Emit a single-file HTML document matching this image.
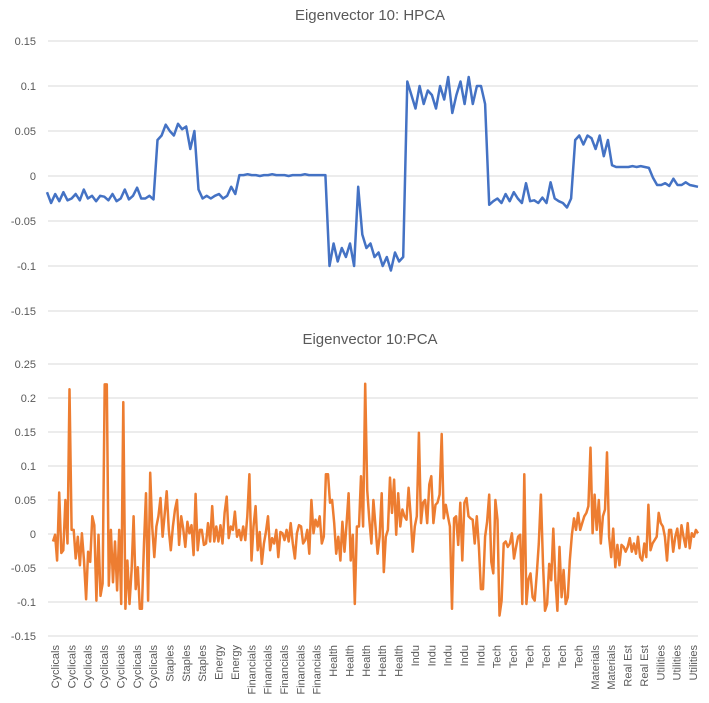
<!DOCTYPE html>
<html><head><meta charset="utf-8"><style>
body{margin:0;background:#fff;}
svg{display:block;font-family:"Liberation Sans",sans-serif;}
</style></head><body>
<svg id="chart" width="709" height="703" viewBox="0 0 709 703" xmlns="http://www.w3.org/2000/svg">
<rect width="709" height="703" fill="#fff"/>
<text x="370" y="20" text-anchor="middle" font-size="15" fill="#595959">Eigenvector 10: HPCA</text>
<text x="370" y="344" text-anchor="middle" font-size="15" fill="#595959">Eigenvector 10:PCA</text>
<g id="top"></g><g id="bot"></g><g id="xl"></g>
</svg>
<script>
const hpcaTicks=[0.15,0.1,0.05,0,-0.05,-0.1,-0.15];
const hpcaTickLabels=["0.15","0.1","0.05","0","-0.05","-0.1","-0.15"];
const pcaTicks=[0.25,0.2,0.15,0.1,0.05,0,-0.05,-0.1,-0.15];
const pcaTickLabels=["0.25","0.2","0.15","0.1","0.05","0","-0.05","-0.1","-0.15"];
const categories=["Cyclicals","Cyclicals","Cyclicals","Cyclicals","Cyclicals","Cyclicals","Cyclicals","Staples","Staples","Staples","Energy","Energy","Financials","Financials","Financials","Financials","Financials","Health","Health","Health","Health","Health","Indu","Indu","Indu","Indu","Indu","Tech","Tech","Tech","Tech","Tech","Tech","Materials","Materials","Real Est","Real Est","Utilities","Utilities","Utilities"];
const hpcaValues=[-0.018,-0.03,-0.02,-0.028,-0.018,-0.027,-0.025,-0.02,-0.027,-0.015,-0.025,-0.022,-0.028,-0.022,-0.023,-0.027,-0.02,-0.028,-0.025,-0.015,-0.026,-0.022,-0.013,-0.025,-0.025,-0.022,-0.026,
0.04,0.045,0.057,0.05,0.045,0.058,0.052,0.055,0.03,0.05,
-0.015,-0.025,-0.022,-0.025,-0.022,-0.02,-0.025,-0.022,-0.012,-0.02,
0.001,0.001,0.002,0.001,0.001,0,0.001,0.001,0.002,0.001,0.001,0.001,0,0.001,0.001,0.001,0.002,0.001,0.001,0.001,0.001,0.001,
-0.1,-0.075,-0.095,-0.08,-0.09,-0.075,-0.1,-0.012,-0.065,-0.08,-0.075,-0.09,-0.085,-0.1,-0.09,-0.105,-0.085,-0.095,-0.09,
0.105,0.09,0.075,0.1,0.08,0.095,0.09,0.075,0.1,0.085,0.11,0.07,0.09,0.105,0.08,0.11,0.08,0.1,0.1,0.08,
-0.032,-0.028,-0.025,-0.03,-0.02,-0.028,-0.018,-0.025,-0.03,-0.008,-0.028,-0.027,-0.03,-0.024,-0.03,-0.007,-0.025,-0.028,-0.03,-0.035,-0.025,
0.04,0.045,0.035,0.045,0.042,0.03,0.045,0.022,0.04,
0.012,0.01,0.01,0.01,0.01,0.011,0.01,0.011,0.01,0.009,
-0.002,-0.01,-0.01,-0.008,-0.011,-0.003,-0.01,-0.01,-0.007,-0.01,-0.011,-0.012];
const pcaValues=[-0.011,-0.001,-0.039,0.061,-0.028,-0.024,0.050,-0.014,0.213,0.006,0.006,-0.036,-0.004,-0.046,0.001,-0.039,-0.096,-0.026,-0.041,0.026,0.013,-0.098,-0.001,-0.091,-0.073,0.220,0.220,-0.076,0.006,-0.071,-0.011,-0.083,0.006,-0.103,0.194,-0.110,-0.039,-0.103,-0.053,0.026,-0.081,-0.049,-0.110,-0.110,-0.014,0.060,-0.098,0.090,0.011,-0.034,0.011,0.026,0.053,-0.004,0.028,0.063,0.006,-0.024,0.011,0.036,0.050,-0.016,0.026,0.008,-0.019,0.018,0.001,0.013,-0.031,0.059,-0.024,0.006,0.006,-0.016,-0.014,0.016,-0.011,0.041,-0.011,0.011,-0.011,0.013,-0.014,0.031,0.055,-0.006,0.011,0.006,0.033,-0.004,0.006,-0.009,0.011,-0.009,0.026,0.088,-0.039,0.011,0.041,-0.024,0.003,-0.044,-0.014,0.003,0.026,-0.024,-0.006,-0.014,0.006,-0.034,0.003,0.001,-0.009,0.006,-0.011,0.016,-0.014,-0.036,0.001,0.013,0.011,-0.014,-0.009,0.006,-0.029,0.050,0.001,0.021,0.011,0.026,-0.014,-0.004,0.088,0.088,0.046,0.050,0.016,-0.029,
-0.004,-0.039,0.018,-0.026,0.016,0.060,-0.039,-0.001,-0.103,0.011,0.011,0.085,0.011,0.221,0.065,0.021,-0.014,0.050,0.011,-0.029,-0.004,0.060,-0.056,-0.004,0.006,0.083,0.031,0.080,-0.001,0.060,0.011,0.036,0.026,0.021,0.068,0.028,-0.026,0.011,0.026,0.149,0.016,0.046,0.050,0.016,0.073,0.085,0.016,0.043,0.046,0.058,0.147,0.023,0.043,0.026,0.011,-0.110,0.023,0.026,-0.016,0.046,-0.039,0.046,0.053,0.026,0.023,0.021,-0.014,0.026,-0.019,-0.081,-0.081,-0.004,0.018,0.058,-0.041,-0.058,0.050,0.021,-0.120,-0.098,-0.014,-0.011,-0.019,-0.014,0.001,-0.036,-0.019,-0.004,-0.001,-0.103,0.088,-0.103,-0.066,-0.058,-0.093,-0.098,-0.058,-0.014,0.058,-0.044,-0.113,-0.103,-0.044,-0.068,0.008,-0.068,-0.113,-0.019,-0.093,-0.053,-0.103,-0.093,-0.039,-0.001,0.023,0.006,0.031,0.006,0.016,0.026,0.031,0.041,0.127,0.001,0.058,0.006,0.050,-0.014,0.026,0.036,0.120,-0.004,-0.034,0.008,-0.049,-0.016,-0.046,-0.016,-0.019,-0.026,-0.019,-0.006,-0.026,-0.014,-0.029,-0.004,-0.034,-0.039,-0.014,-0.034,0.043,-0.024,-0.014,-0.009,-0.004,0.031,0.016,0.011,-0.004,-0.039,0.006,0.006,-0.026,-0.004,0.008,-0.021,0.013,-0.004,-0.019,0.016,-0.021,0.001,-0.004,0.006,0.001];

const NS="http://www.w3.org/2000/svg";
function mk(tag,attrs,parent){const e=document.createElementNS(NS,tag);for(const k in attrs)e.setAttribute(k,attrs[k]);parent.appendChild(e);return e;}
const X0=48,X1=698;
function yTop(v){return 176-v*900;}
function yBot(v){return 534-v*680;}
const gTop=document.getElementById('top'),gBot=document.getElementById('bot'),gX=document.getElementById('xl');
hpcaTicks.forEach((t,i)=>{
  const l=mk('line',{x1:X0,x2:X1,y1:yTop(t),y2:yTop(t),stroke:'#d9d9d9','stroke-width':1},gTop);
  
  
  const tx=mk('text',{x:36,y:yTop(t)+4,'text-anchor':'end','font-size':11,fill:'#595959'},gTop);
  tx.textContent=hpcaTickLabels[i];
  
  
});
pcaTicks.forEach((t,i)=>{
  const l=mk('line',{x1:X0,x2:X1,y1:yBot(t),y2:yBot(t),stroke:'#d9d9d9','stroke-width':1},gBot);
  
  
  const tx=mk('text',{x:36,y:yBot(t)+4,'text-anchor':'end','font-size':11,fill:'#595959'},gBot);
  tx.textContent=pcaTickLabels[i];
  
  
});
const nT=hpcaValues.length;
const xTop=i=>47+i*(651/(nT-1));
const pTop=mk('polyline',{points:hpcaValues.map((v,i)=>xTop(i).toFixed(1)+','+yTop(v).toFixed(1)).join(' '),fill:'none',stroke:'#4472C4','stroke-width':2.5,'stroke-linejoin':'round'},gTop);


const nB=pcaValues.length;
const xBot=i=>53+i*(645/(nB-1));
const pBot=mk('polyline',{points:pcaValues.map((v,i)=>xBot(i).toFixed(1)+','+yBot(v).toFixed(1)).join(' '),fill:'none',stroke:'#ED7D31','stroke-width':2.5,'stroke-linejoin':'round'},gBot);


const step=(693-55)/(categories.length-1);
categories.forEach((c,k)=>{
  const x=55+k*step+4;
  const tx=mk('text',{x:x,y:645,'text-anchor':'end','font-size':11,fill:'#595959',transform:'rotate(-90 '+x+' 645)'},gX);
  tx.textContent=c;
  
  
});
</script>
</body></html>
